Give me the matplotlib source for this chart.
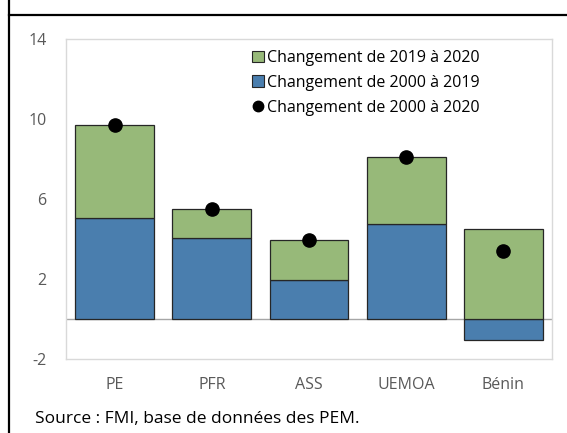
import numpy as np
import matplotlib
matplotlib.use("Agg")
import matplotlib.pyplot as plt
from matplotlib.lines import Line2D

plt.rcParams['font.family'] = ['Open Sans', 'DejaVu Sans']
plt.rcParams['axes.unicode_minus'] = False

categories = ['PE', 'PFR', 'ASS', 'UEMOA', 'Bénin']
chg_2000_2019 = [5.05, 4.05, 1.93, 4.77, -1.05]
chg_2019_2020 = [4.65, 1.43, 2.02, 3.33, 4.48]
chg_2000_2020 = [9.7, 5.5, 3.95, 8.1, 3.4]

green = '#97B979'
blue = '#4A7EAE'
edge = '#262626'
gray_txt = '#595959'

W, H = 567, 433
fig = plt.figure(figsize=(W / 100, H / 100), dpi=100)
ax = fig.add_axes([66 / W, (H - 359) / H, 486 / W, 320 / H])

x = np.arange(len(categories))
blue_v = np.array(chg_2000_2019)
green_v = np.array(chg_2019_2020)
# green stacks on blue when blue is positive, otherwise from zero
green_bottom = np.where(blue_v > 0, blue_v, 0)

ax.bar(x, blue_v, width=0.81, color=blue, edgecolor=edge, linewidth=0.9, zorder=3)
ax.bar(x, green_v, bottom=green_bottom, width=0.81, color=green, edgecolor=edge,
       linewidth=0.9, zorder=3)
ax.plot(x, chg_2000_2020, 'o', color='black', markersize=9.5, zorder=4, linestyle='none')

ax.axhline(0, color='#A6A6A6', linewidth=1, zorder=2)

ax.set_xlim(-0.5, len(categories) - 0.5)
ax.set_ylim(-2, 14)
ax.set_yticks([-2, 2, 6, 10, 14])
ax.set_xticks(x)
ax.set_xticklabels(categories)
ax.tick_params(axis='both', length=0, labelsize=11.5, colors=gray_txt)
ax.tick_params(axis='y', pad=14)
ax.tick_params(axis='x', pad=13)
for s in ax.spines.values():
    s.set_color('#D9D9D9')
    s.set_linewidth(1)

handles = [
    plt.Rectangle((0, 0), 1, 1, facecolor=green, edgecolor=edge, linewidth=0.8),
    plt.Rectangle((0, 0), 1, 1, facecolor=blue, edgecolor=edge, linewidth=0.8),
    Line2D([], [], marker='o', color='black', linestyle='none', markersize=7.5),
]
labels = ['Changement de 2019 à 2020', 'Changement de 2000 à 2019',
          'Changement de 2000 à 2020']
ax.legend(handles, labels, loc='upper left', bbox_to_anchor=(252 / W, 1 - 50 / H),
          bbox_transform=fig.transFigure, frameon=False, fontsize=11.5,
          handlelength=0.75, handleheight=0.75, handletextpad=0.2,
          labelspacing=0.55, borderpad=0, borderaxespad=0)

fig.text(35 / W, 1 - 423 / H, 'Source : FMI, base de données des PEM.',
         fontsize=12.5, color='black', va='baseline')

# outer frame lines
fig.add_artist(Line2D([9 / W, 9 / W], [0, 1], color='black', linewidth=1.6,
                      transform=fig.transFigure))
fig.add_artist(Line2D([9 / W, 1], [1 - 15 / H, 1 - 15 / H], color='black',
                      linewidth=1.6, transform=fig.transFigure))

fig.savefig('out.png', dpi=100)
